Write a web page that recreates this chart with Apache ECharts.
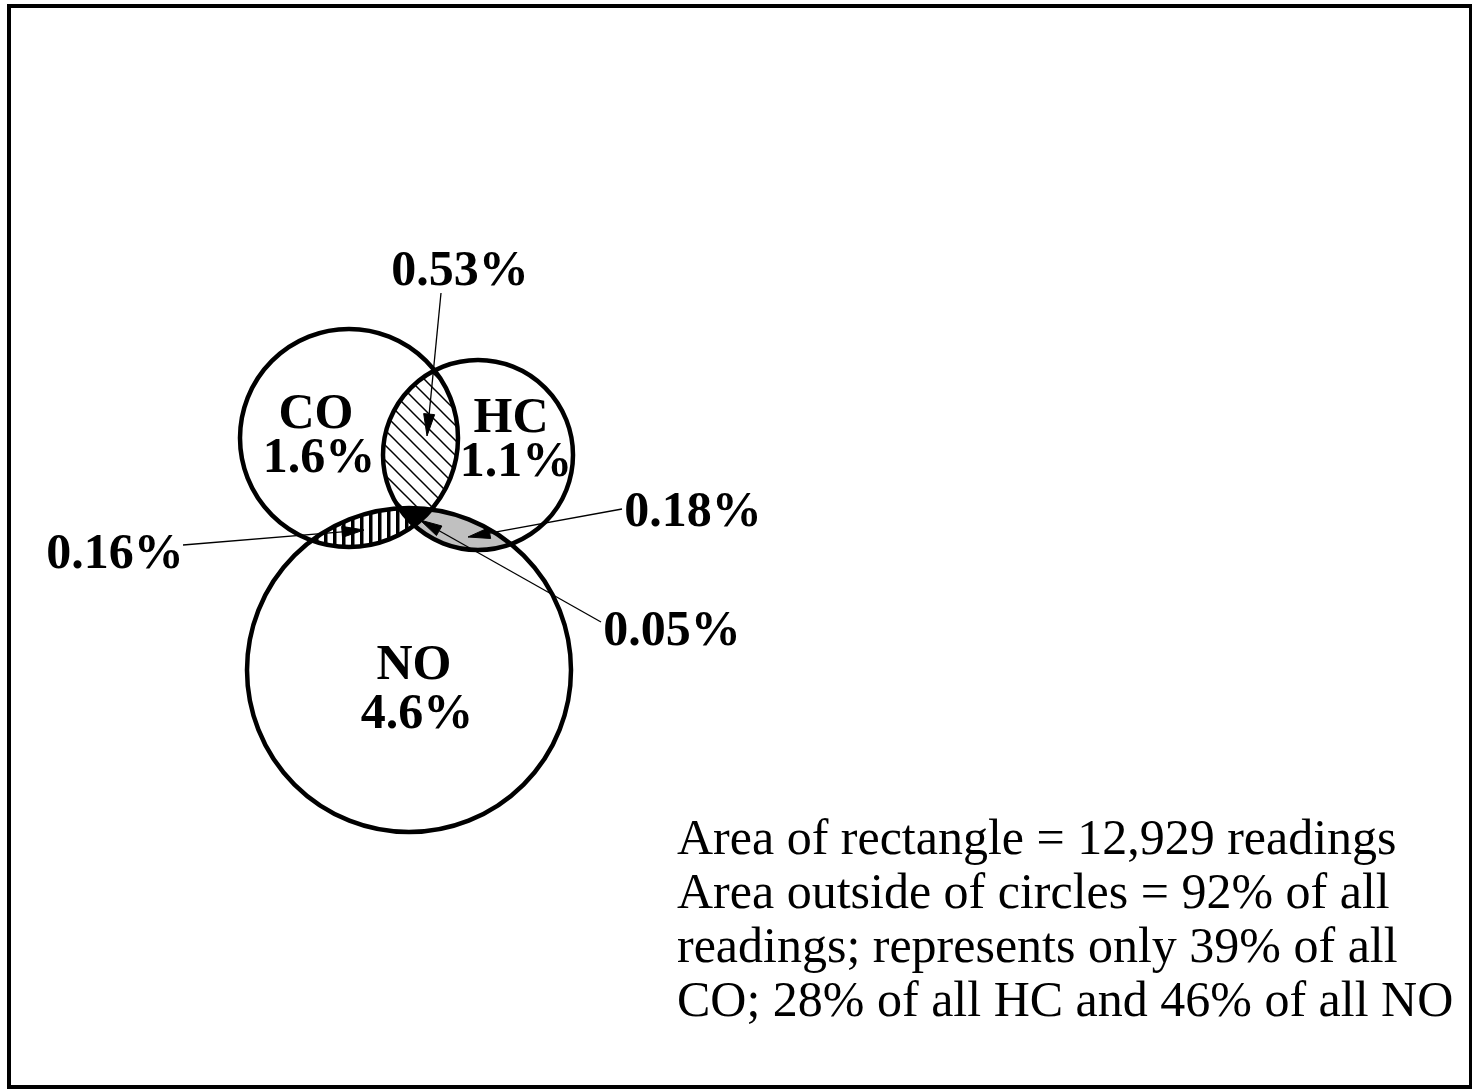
<!DOCTYPE html>
<html><head><meta charset="utf-8">
<script src="https://cdn.jsdelivr.net/npm/echarts@6/dist/echarts.min.js"></script>
<style>html,body{margin:0;padding:0;background:#fff}#c{width:1472px;height:1089px}</style>
</head><body><div id="c"></div>
<script>
// ---- data ----
const setNames = ['CO', 'HC', 'NO'];
const setOnlyPct = ['1.6%', '1.1%', '4.6%'];
const overlapMembers = [[0, 1], [0, 2], [1, 2], [0, 1, 2]];
const overlapPct = ['0.53%', '0.16%', '0.18%', '0.05%'];
const noteLines = [
  'Area of rectangle = 12,929 readings',
  'Area outside of circles = 92% of all',
  'readings; represents only 39% of all',
  'CO; 28% of all HC and 46% of all NO'
];

// ---- layout (axis units) ----
const circleX = [349, 478, 409];
const circleY = [438, 455, 670];
const circleR = [109, 95, 162];
const setLabelX = [316, 511, 414];
const setLabelY = [415, 419, 666];
const pctLabelX = [319, 516, 417];
const pctLabelY = [459, 463, 715];
const overlapLabelX = [460, 115, 693, 672];
const overlapLabelY = [272, 555, 513, 632];
const arrowFrom = [[441, 293], [183, 545], [622, 509], [601, 622]];
const arrowTo = [[427, 436], [364, 530], [468, 537], [420, 520]];
const noteX = 677;
const noteY = [841, 895, 949, 1003];
const frameBox = [9, 6, 1471, 1087];

// ---- patterns ----
function makeDiag() {
  const c = document.createElement('canvas'); c.width = 15; c.height = 15;
  const g = c.getContext('2d'); g.fillStyle = '#fff'; g.fillRect(0, 0, 15, 15);
  g.strokeStyle = '#000'; g.lineWidth = 1.5;
  [-15, 0, 15].forEach(o => { g.beginPath(); g.moveTo(o - 1, -1); g.lineTo(o + 16, 16); g.stroke(); });
  return c;
}
function makeVert() {
  const c = document.createElement('canvas'); c.width = 9; c.height = 9;
  const g = c.getContext('2d'); g.fillStyle = '#fff'; g.fillRect(0, 0, 9, 9);
  g.fillStyle = '#000'; g.fillRect(0, 0, 3.5, 9);
  return c;
}
const overlapFills = [
  { image: makeDiag(), repeat: 'repeat' },
  { image: makeVert(), repeat: 'repeat' },
  '#c0c0c0',
  '#000'
];

function inside(p, k) {
  const dx = p[0] - circleX[k], dy = p[1] - circleY[k];
  return dx * dx + dy * dy <= circleR[k] * circleR[k] + 1e-6;
}
function lensPolygon(members) {
  const pts = [];
  const N = 720;
  members.forEach(i => {
    for (let s = 0; s < N; s++) {
      const a = s / N * Math.PI * 2;
      const p = [circleX[i] + circleR[i] * Math.cos(a), circleY[i] + circleR[i] * Math.sin(a)];
      if (members.every(k => k === i || inside(p, k))) pts.push(p);
    }
  });
  let cx = 0, cy = 0;
  pts.forEach(p => { cx += p[0]; cy += p[1]; });
  cx /= pts.length; cy /= pts.length;
  pts.sort((a, b) => Math.atan2(a[1] - cy, a[0] - cx) - Math.atan2(b[1] - cy, b[0] - cx));
  return pts;
}

const serif = '"Liberation Serif", "Times New Roman", Times, serif';
const chart = echarts.init(document.getElementById('c'), null, { renderer: 'canvas' });

function textSeries(labels, xs, ys, bold, align) {
  return {
    type: 'custom', z: 5, silent: true, clip: false,
    data: labels.map((t, i) => [xs[i], ys[i]]),
    renderItem: (params, api) => {
      const p = api.coord([api.value(0), api.value(1)]);
      return { type: 'text', x: p[0], y: p[1], style: { text: labels[params.dataIndex], fontFamily: serif, fontSize: 50,
        fontWeight: bold ? 'bold' : 'normal', fill: '#000', align: align, verticalAlign: 'middle' } };
    }
  };
}

chart.setOption({
  animation: false,
  backgroundColor: '#fff',
  grid: { left: 0, right: 0, top: 0, bottom: 0 },
  xAxis: { type: 'value', min: 0, max: 1472, show: false },
  yAxis: { type: 'value', min: 0, max: 1089, inverse: true, show: false },
  series: [
    { // frame rectangle
      type: 'custom', z: 1, silent: true, clip: false,
      data: [frameBox],
      renderItem: (params, api) => {
        const p0 = api.coord([api.value(0), api.value(1)]);
        const p1 = api.coord([api.value(2), api.value(3)]);
        return { type: 'rect', shape: { x: p0[0], y: p0[1], width: p1[0] - p0[0], height: p1[1] - p0[1] },
          style: { fill: 'none', stroke: '#000', lineWidth: 4 } };
      }
    },
    { // overlap regions
      type: 'custom', z: 2, silent: true, clip: false,
      data: overlapMembers.map((m, i) => [i]),
      renderItem: (params, api) => {
        const i = params.dataIndex;
        const pts = lensPolygon(overlapMembers[i]).map(p => api.coord(p));
        return { type: 'polygon', shape: { points: pts }, style: { fill: overlapFills[i], stroke: null } };
      }
    },
    { // circles
      type: 'custom', z: 3, silent: true, clip: false,
      data: setNames.map((n, i) => [circleX[i], circleY[i], circleR[i]]),
      renderItem: (params, api) => {
        const c = api.coord([api.value(0), api.value(1)]);
        const r = api.size([api.value(2), api.value(2)])[0];
        return { type: 'circle', shape: { cx: c[0], cy: c[1], r: r }, style: { fill: 'none', stroke: '#000', lineWidth: 4.5 } };
      }
    },
    { // arrows
      type: 'custom', z: 4, silent: true, clip: false,
      data: arrowFrom.map((f, i) => [f[0], f[1], arrowTo[i][0], arrowTo[i][1]]),
      renderItem: (params, api) => {
        const a = api.coord([api.value(0), api.value(1)]);
        const b = api.coord([api.value(2), api.value(3)]);
        const dx = b[0] - a[0], dy = b[1] - a[1];
        const L = Math.sqrt(dx * dx + dy * dy);
        const ux = dx / L, uy = dy / L;
        const hl = 22, hw = 5.5;
        const base = [b[0] - ux * hl, b[1] - uy * hl];
        return { type: 'group', children: [
          { type: 'line', shape: { x1: a[0], y1: a[1], x2: base[0], y2: base[1] }, style: { stroke: '#000', lineWidth: 1.3 } },
          { type: 'polygon', shape: { points: [b, [base[0] - uy * hw, base[1] + ux * hw], [base[0] + uy * hw, base[1] - ux * hw]] },
            style: { fill: '#000', stroke: '#000', lineWidth: 1 } }
        ] };
      }
    },
    textSeries(setNames, setLabelX, setLabelY, true, 'center'),
    textSeries(setOnlyPct, pctLabelX, pctLabelY, true, 'center'),
    textSeries(overlapPct, overlapLabelX, overlapLabelY, true, 'center'),
    textSeries(noteLines, noteLines.map(() => noteX), noteY, false, 'left')
  ]
});
</script>
</body></html>
